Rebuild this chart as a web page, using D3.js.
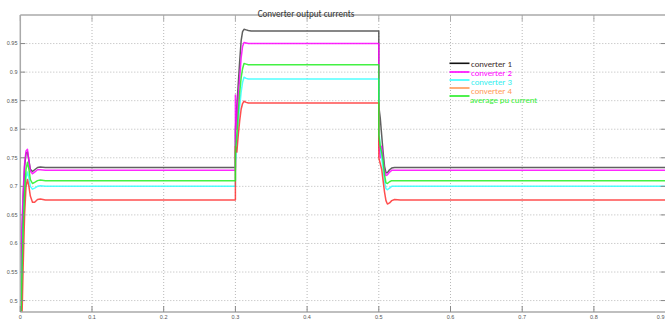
<!DOCTYPE html>
<html><head><meta charset="utf-8">
<script src="https://cdn.jsdelivr.net/npm/d3@7/dist/d3.min.js"></script>
<style>body{margin:0;background:#fff}svg{display:block}</style>
</head><body>
<script>
const time = [0, 0.002, 0.004, 0.006, 0.008, 0.010, 0.012, 0.014, 0.017, 0.020, 0.024, 0.028, 0.035,
  0.3, 0.3, 0.302, 0.304, 0.306, 0.308, 0.310, 0.312, 0.315, 0.318, 0.322, 0.33,
  0.5, 0.5, 0.502, 0.504, 0.506, 0.508, 0.510, 0.512, 0.515, 0.518, 0.522, 0.53, 0.9];
const conv1 = [0.40, 0.60, 0.68, 0.735, 0.758, 0.760, 0.745, 0.730, 0.726, 0.729, 0.733, 0.734, 0.733,
  0.733, 0.80, 0.84, 0.88, 0.92, 0.955, 0.971, 0.975, 0.974, 0.973, 0.972, 0.972,
  0.972, 0.84, 0.82, 0.79, 0.76, 0.735, 0.724, 0.724, 0.729, 0.732, 0.733, 0.733, 0.733];
const conv2 = [0.42, 0.62, 0.69, 0.74, 0.762, 0.765, 0.745, 0.727, 0.722, 0.725, 0.729, 0.729, 0.728,
  0.728, 0.86, 0.80, 0.86, 0.89, 0.925, 0.945, 0.952, 0.951, 0.950, 0.950, 0.950,
  0.950, 0.78, 0.75, 0.77, 0.75, 0.728, 0.719, 0.720, 0.725, 0.728, 0.728, 0.728, 0.728];
const conv3 = [0.40, 0.52, 0.62, 0.68, 0.715, 0.725, 0.715, 0.700, 0.695, 0.697, 0.700, 0.701, 0.700,
  0.700, 0.74, 0.77, 0.81, 0.84, 0.865, 0.882, 0.891, 0.889, 0.888, 0.888, 0.888,
  0.888, 0.80, 0.77, 0.75, 0.73, 0.708, 0.696, 0.694, 0.697, 0.700, 0.700, 0.700, 0.700];
const conv4 = [0.38, 0.45, 0.56, 0.65, 0.70, 0.712, 0.700, 0.683, 0.672, 0.672, 0.677, 0.678, 0.676,
  0.676, 0.77, 0.76, 0.79, 0.815, 0.835, 0.845, 0.849, 0.847, 0.846, 0.846, 0.846,
  0.846, 0.75, 0.74, 0.73, 0.71, 0.69, 0.675, 0.669, 0.671, 0.675, 0.677, 0.676, 0.676];
const avgpu = [0.40, 0.53, 0.63, 0.69, 0.73, 0.742, 0.730, 0.712, 0.705, 0.707, 0.710, 0.711, 0.710,
  0.710, 0.76, 0.79, 0.83, 0.865, 0.89, 0.906, 0.915, 0.914, 0.913, 0.913, 0.913,
  0.913, 0.79, 0.77, 0.76, 0.745, 0.72, 0.706, 0.705, 0.708, 0.710, 0.710, 0.710, 0.710];
const xTicks = [0, 0.1, 0.2, 0.3, 0.4, 0.5, 0.6, 0.7, 0.8, 0.9];
const xTickLabels = ["0", "0.1", "0.2", "0.3", "0.4", "0.5", "0.6", "0.7", "0.8", "0.9"];
const yTicks = [0.5, 0.55, 0.6, 0.65, 0.7, 0.75, 0.8, 0.85, 0.9, 0.95];
const yTickLabels = ["0.5", "0.55", "0.6", "0.65", "0.7", "0.75", "0.8", "0.85", "0.9", "0.95"];
const seriesNames = ["converter 1", "converter 2", "converter 3", "converter 4", "average pu current"];
const seriesData = [conv1, conv2, conv3, conv4, avgpu];
const lineColors = ["#444444", "#ff00ff", "#33ffff", "#ff3030", "#22ee22"];
const legendLineColors = ["#111111", "#ff00ff", "#33ffff", "#ff9955", "#22ee22"];
const legendTextColors = ["#3a2a2a", "#ff00ff", "#33eeee", "#ff9955", "#33ee33"];
const title = "Converter output currents";

const W = 665, H = 320;
const L = 20.3, R = 665.6, T = 15, B = 312;
const svg = d3.select("body").append("svg").attr("width", W).attr("height", H);
const x = d3.scaleLinear().domain([0, 0.9]).range([L, R]);
const y = d3.scaleLinear().domain([0.48, 1.0]).range([B, T]);

// grid
const grid = svg.append("g");
grid.selectAll(".vg").data(xTicks.slice(1)).join("line")
  .attr("x1", d => x(d)).attr("x2", d => x(d)).attr("y1", T).attr("y2", B)
  .attr("stroke", "#b8b8b8").attr("stroke-width", 1).attr("stroke-dasharray", "1,2");
grid.selectAll(".hg").data(yTicks).join("line")
  .attr("x1", L).attr("x2", R).attr("y1", d => y(d)).attr("y2", d => y(d))
  .attr("stroke", "#b8b8b8").attr("stroke-width", 1).attr("stroke-dasharray", "1,2");

// clip
svg.append("clipPath").attr("id", "clip").append("rect")
  .attr("x", L).attr("y", T).attr("width", R - L).attr("height", B - T);

const line = d3.line().x((d, i) => x(time[i])).y(d => y(d));
const lines = svg.append("g").attr("clip-path", "url(#clip)");
seriesData.forEach((s, k) => {
  lines.append("path").datum(s).attr("d", line)
    .attr("fill", "none").attr("stroke", lineColors[k]).attr("stroke-width", 1.5)
    .attr("stroke-opacity", 0.85).attr("stroke-linejoin", "round");
});

// axes frame
const ax = svg.append("g");
ax.append("line").attr("x1", L).attr("x2", R).attr("y1", T).attr("y2", T).attr("stroke", "#aaa").attr("stroke-width", 1.5);
ax.append("line").attr("x1", L).attr("x2", R).attr("y1", B).attr("y2", B).attr("stroke", "#aaa").attr("stroke-width", 1.5);
ax.append("line").attr("x1", L).attr("x2", L).attr("y1", T).attr("y2", B).attr("stroke", "#aaa").attr("stroke-width", 1.5);

// ticks
ax.selectAll(".xt").data(xTicks).join("line")
  .attr("x1", d => x(d)).attr("x2", d => x(d)).attr("y1", B).attr("y2", B - 6)
  .attr("stroke", "#888").attr("stroke-width", 1);
ax.selectAll(".xtt").data(xTicks).join("line")
  .attr("x1", d => x(d)).attr("x2", d => x(d)).attr("y1", T).attr("y2", T + 6)
  .attr("stroke", "#aaa").attr("stroke-width", 1);
ax.selectAll(".yt").data(yTicks).join("line")
  .attr("x1", L).attr("x2", L + 5).attr("y1", d => y(d)).attr("y2", d => y(d))
  .attr("stroke", "#888").attr("stroke-width", 1);
ax.selectAll(".ytr").data(yTicks).join("line")
  .attr("x1", R - 5).attr("x2", R).attr("y1", d => y(d)).attr("y2", d => y(d))
  .attr("stroke", "#888").attr("stroke-width", 1);

// tick labels
const tickFont = "'Liberation Sans', Arial, sans-serif";
ax.selectAll(".xl").data(xTicks).join("text")
  .attr("x", (d, i) => i === xTicks.length - 1 ? W - 0.5 : x(d)).attr("y", 319)
  .attr("text-anchor", (d, i) => i === xTicks.length - 1 ? "end" : "middle")
  .attr("font-family", tickFont).attr("font-size", 5.5)
  .attr("fill", "#555").text((d, i) => xTickLabels[i]);
ax.selectAll(".yl").data(yTicks).join("text")
  .attr("x", 17.5).attr("y", d => y(d)).attr("dy", "0.35em")
  .attr("text-anchor", "end").attr("font-family", tickFont).attr("font-size", 5.5)
  .attr("fill", "#555").text((d, i) => yTickLabels[i]);

// title
svg.append("text").attr("x", 306).attr("y", 16.5).attr("text-anchor", "middle")
  .attr("font-family", "Carlito, 'Liberation Sans', Arial, sans-serif").attr("font-size", 9.1)
  .attr("fill", "#333").text(title);

// legend
const legY = [63.3, 72, 80, 88, 96];
const legTY = [63.5, 73, 81.8, 90.6, 99.8];
const leg = svg.append("g");
seriesNames.forEach((n, k) => {
  leg.append("line").attr("x1", 449.5).attr("x2", 469.5).attr("y1", legY[k]).attr("y2", legY[k])
    .attr("stroke", legendLineColors[k]).attr("stroke-width", 1.6);
  leg.append("text").attr("x", k === 4 ? 470 : 471).attr("y", legTY[k]).attr("dy", "0.35em")
    .attr("font-family", "Carlito, 'Liberation Sans', Arial, sans-serif").attr("font-size", 8.8)
    .attr("fill", legendTextColors[k]).text(n);
});
</script>
</body></html>
